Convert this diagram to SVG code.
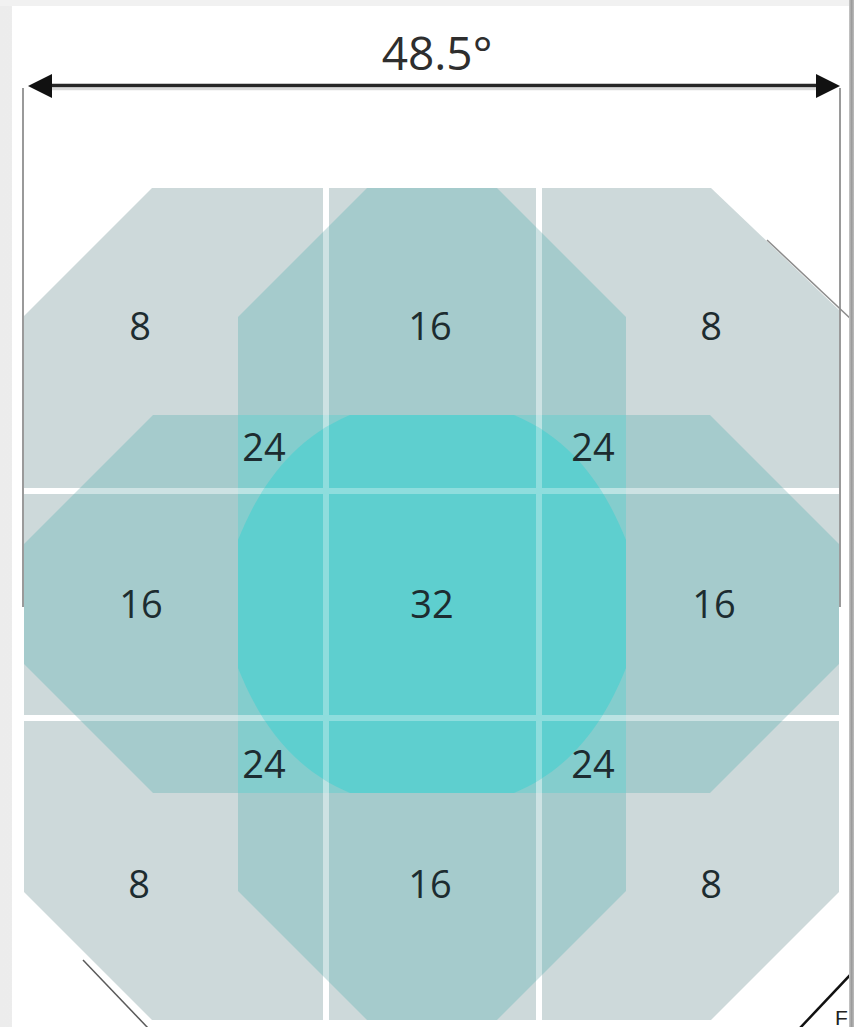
<svg xmlns="http://www.w3.org/2000/svg" width="854" height="1027" viewBox="0 0 854 1027">
<defs>
<style>
.lbl{font-family:"Open Sans","Liberation Sans",sans-serif;font-size:38px;fill:#1d2c30;text-anchor:middle}
.wl{stroke:#ffffff;stroke-width:6;fill:none}
.teal{fill:#a5cbcc}
.ext{stroke:#9a9a9a;stroke-width:2;fill:none}
</style>
<linearGradient id="edgeR" x1="0" x2="1" y1="0" y2="0">
<stop offset="0" stop-color="#c8c8c8"/><stop offset="0.5" stop-color="#9c9c9c"/><stop offset="1" stop-color="#bcbcbc"/>
</linearGradient>
<linearGradient id="edgeL" x1="0" x2="1" y1="0" y2="0">
<stop offset="0" stop-color="#ececec"/><stop offset="1" stop-color="#f8f8f8"/>
</linearGradient>
<clipPath id="view"><rect x="12" y="6" width="837" height="1021"/></clipPath>
<clipPath id="centerClip"><path d="M238,540 C258,490 290,440 350,415 H514 C574,440 606,490 626,540 V668 C606,718 574,768 514,793 H350 C290,768 258,718 238,668 Z"/></clipPath>
</defs>

<g id="frame">
<rect x="0" y="0" width="854" height="1027" fill="url(#edgeL)"/>
<rect x="0" y="0" width="854" height="6" fill="#f1f1f1"/>
<rect x="12" y="6" width="837" height="1021" fill="#ffffff"/>
</g>

<g id="dimension">
<line class="ext" x1="23" y1="88" x2="23" y2="607"/>
<line class="ext" x1="840" y1="88" x2="840" y2="607"/>
<line x1="50" y1="89" x2="818" y2="89" stroke="#dadada" stroke-width="2.5"/>
<line x1="50" y1="85.5" x2="818" y2="85.5" stroke="#262626" stroke-width="3.5"/>
<polygon points="28,86 52,74 52,98" fill="#111111"/>
<polygon points="840,86 816,74 816,98" fill="#111111"/>
<text x="437" y="70" font-family="Open Sans, Liberation Sans, sans-serif" font-size="46" fill="#2e2e2e" text-anchor="middle">48.5°</text>
</g>

<g id="coverage-1">
<path d="M152,188 H711 L839,310 V892 L711,1020 H152 L24,892 V316 Z" fill="#cdd9da"/>
</g>

<g id="axes-base">
<path class="wl" d="M326,188V1020M539,188V1020M24,491H839M24,718H839"/>
</g>

<g id="coverage-2">
<path class="teal" d="M367,188 H497 L626,317 V664 L497,793 H367 L238,664 V317 Z"/>
<path class="teal" d="M153,415 H497 L626,544 V664 L497,793 H153 L24,664 V544 Z"/>
<path class="teal" d="M367,415 H497 L626,544 V891 L497,1020 H367 L238,891 V544 Z"/>
<path class="teal" d="M367,415 H710 L839,544 V664 L710,793 H367 L238,664 V544 Z"/>
</g>

<g id="coverage-3">
<rect x="238" y="415" width="388" height="378" fill="#84cdcd"/>
</g>

<g id="axes-overlay">
<path class="wl" opacity="0.45" d="M326,188V1020M539,188V1020M24,491H839M24,718H839"/>
</g>

<g id="coverage-4">
<path d="M238,540 C258,490 290,440 350,415 H514 C574,440 606,490 626,540 V668 C606,718 574,768 514,793 H350 C290,768 258,718 238,668 Z" fill="#5ecfcf"/>
<path class="wl" opacity="0.3" clip-path="url(#centerClip)" d="M326,188V1020M539,188V1020M24,491H839M24,718H839"/>
</g>

<g id="cutoff" clip-path="url(#view)">
<line x1="767" y1="240" x2="852" y2="320" stroke="#8c8c8c" stroke-width="1.5"/>
<line x1="83" y1="960" x2="148" y2="1028" stroke="#5a5a5a" stroke-width="1.5"/>
<line x1="800" y1="1028" x2="852" y2="973" stroke="#111111" stroke-width="2.5"/>
<text x="835" y="1025" font-family="Liberation Sans, sans-serif" font-size="21" fill="#222222">F</text>
</g>

<g id="labels">
<g id="n-tl"><text class="lbl" x="140" y="340">8</text></g>
<g id="n-tm"><text class="lbl" x="430" y="340">16</text></g>
<g id="n-tr"><text class="lbl" x="711" y="340">8</text></g>
<g id="n-o1"><text class="lbl" x="264" y="461">24</text></g>
<g id="n-o2"><text class="lbl" x="593" y="461">24</text></g>
<g id="n-ml"><text class="lbl" x="141" y="618">16</text></g>
<g id="n-c"><text class="lbl" x="432" y="618">32</text></g>
<g id="n-mr"><text class="lbl" x="714" y="618">16</text></g>
<g id="n-o3"><text class="lbl" x="264" y="778">24</text></g>
<g id="n-o4"><text class="lbl" x="593" y="778">24</text></g>
<g id="n-bl"><text class="lbl" x="139" y="898">8</text></g>
<g id="n-bm"><text class="lbl" x="430" y="898">16</text></g>
<g id="n-br"><text class="lbl" x="711" y="898">8</text></g>
</g>

<rect id="edge-right" x="849" y="0" width="5" height="1027" fill="url(#edgeR)"/>
</svg>
